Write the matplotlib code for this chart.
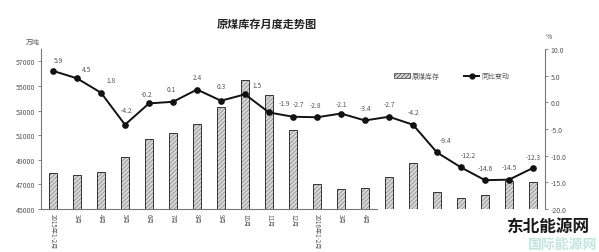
import matplotlib
matplotlib.use("Agg")
import matplotlib.pyplot as plt
from matplotlib.patches import Patch
from matplotlib.lines import Line2D

plt.rcParams['font.family'] = ['Noto Sans CJK SC', 'DejaVu Sans']
plt.rcParams['hatch.linewidth'] = 0.6

# Monthly raw coal inventory (10k tonnes) and year-on-year change (%)
categories = ['2015年1-2月', '3月', '4月', '5月', '6月', '7月', '8月', '9月',
              '10月', '11月', '12月', '2016年1-2月', '3月', '4月',
              '5月', '6月', '7月', '8月', '9月', '10月', '11月']
labeled_count = 14
inventory = [47900, 47800, 48000, 49200, 50700, 51200, 51900, 53300, 55500,
             54300, 51400, 47000, 46600, 46700, 47600, 48700, 46400, 45900,
             46100, 47300, 47200]
yoy_change = [5.9, 4.5, 1.8, -4.2, -0.2, 0.1, 2.4, 0.3, 1.5, -1.9, -2.7,
              -2.8, -2.1, -3.4, -2.7, -4.2, -9.4, -12.2, -14.6, -14.5, -12.3]
left_ticks = [45000, 47000, 49000, 51000, 53000, 55000, 57000]
right_ticks = [-20, -15, -10, -5, 0, 5, 10]

# offsets (points) of the value labels from their markers
label_dx = [4, 7, 7, 1, -2, -1, 0, 0, 9, 11, 4, -1, 0, 0, 0, 0, 6, 5, 0, 0, 0]
label_dy = [5, 4, 6, 8, 4, 6, 6, 8, 4, 4, 6, 6, 4, 6, 6, 6, 6, 6, 6, 6, 5]

W, H = 599, 253
fig = plt.figure(figsize=(W / 100, H / 100), dpi=100)
fig.patch.set_facecolor('white')
ax = fig.add_axes([41 / W, 1 - 210 / H, (545 - 41) / W, 160 / H])
ax2 = ax.twinx()

x = list(range(len(categories)))
text_col = '#555555'
bar_face = '#d9d9d9'
hatch_col = '#8f8f8f'

# hatched bars: hatch layer then dark outline
ax.bar(x, [v - 45000 for v in inventory], bottom=45000, width=0.34,
       color=bar_face, edgecolor=hatch_col, hatch='////////', linewidth=0)
ax.bar(x, [v - 45000 for v in inventory], bottom=45000, width=0.34,
       fill=False, edgecolor='#333333', linewidth=0.7)

ax.set_xlim(-0.5, len(categories) - 0.5)
ax.set_ylim(45000, 58000)
ax.set_yticks(left_ticks)
ax.set_yticklabels([str(t) for t in left_ticks], fontsize=5, color=text_col)
ax.tick_params(axis='y', length=2, width=0.6, color='#777777', pad=2)

ax.set_xticks(x[:labeled_count])
ax.set_xticklabels(categories[:labeled_count], rotation=270, fontsize=4.5,
                   color=text_col, va='top', ha='center')
ax.tick_params(axis='x', length=0, pad=3)

for s in ['top', 'right', 'bottom']:
    ax.spines[s].set_visible(False)
ax.spines['left'].set_color('#777777')
ax.spines['left'].set_linewidth(0.8)
# bottom axis line covers only the labeled months
ax.plot([-0.5, labeled_count - 0.5], [45000, 45000], color='#777777',
        lw=0.8, clip_on=False, zorder=3)

# year-on-year line
ax2.plot(x, yoy_change, color='#111111', lw=1.4, marker='o', markersize=3.8,
         markerfacecolor='#111111', zorder=5)
ax2.set_ylim(-20, 10)
ax2.set_yticks(right_ticks)
ax2.set_yticklabels([f'{t:.1f}' for t in right_ticks], fontsize=5,
                    color=text_col)
ax2.tick_params(axis='y', length=2, width=0.6, color='#777777', pad=2)
for s in ['top', 'left', 'bottom']:
    ax2.spines[s].set_visible(False)
ax2.spines['right'].set_color('#777777')
ax2.spines['right'].set_linewidth(0.8)

for xi, v, dx, dy in zip(x, yoy_change, label_dx, label_dy):
    ax2.annotate(f'{v:.1f}', (xi, v), xytext=(dx, dy),
                 textcoords='offset points', ha='center', va='bottom',
                 fontsize=4.8, color=text_col)

# axis unit labels and title
fig.text(33 / W, 1 - 43 / H, '万吨', fontsize=5, color=text_col,
         ha='center', va='center')
fig.text(549 / W, 1 - 37 / H, '%', fontsize=5, color=text_col,
         ha='center', va='center')
fig.text(267 / W, 1 - 24 / H, '原煤库存月度走势图', fontsize=8,
         fontweight='bold', color='#222222', ha='center', va='center')

handles = [Patch(facecolor=bar_face, edgecolor='#555555', hatch='////////',
                 linewidth=0.6, label='原煤库存'),
           Line2D([0], [0], color='#111111', lw=1.4, marker='o',
                  markersize=3.5, label='同比变动')]
fig.legend(handles=handles, ncol=2, frameon=False, fontsize=5,
           loc='center', bbox_to_anchor=(452 / W, 1 - 77 / H),
           handlelength=2.2, handleheight=0.6, columnspacing=3.5,
           handletextpad=0.3, labelcolor=text_col)

# site mark in the lower right corner
fig.text(597 / W, 1 - 245 / H, '国际能源网', fontsize=10, color='#a9dccf',
         ha='right', va='center', fontweight='bold', alpha=0.7)
fig.text(589 / W, 1 - 227 / H, '东北能源网', fontsize=12, color='#1a1a1a',
         ha='right', va='center', fontweight='bold')

fig.savefig('out.png', dpi=100, facecolor='white')
